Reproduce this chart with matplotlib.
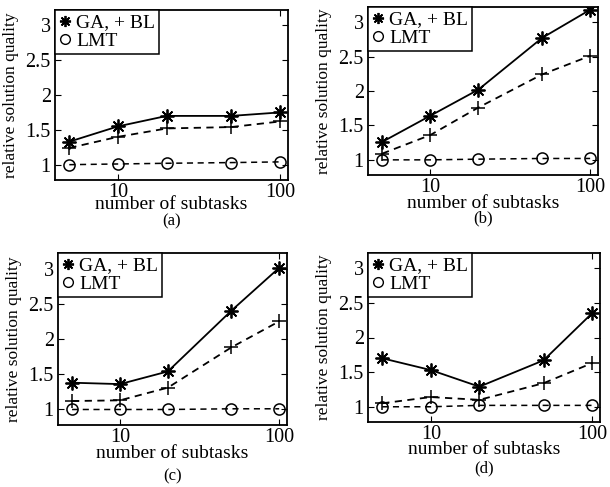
import matplotlib.pyplot as plt
from matplotlib.lines import Line2D

plt.rcParams['font.family'] = 'Liberation Serif'

subtasks = [5, 10, 20, 50, 100]

ga_a = [1.33, 1.55, 1.70, 1.70, 1.75]
bl_a = [1.24, 1.40, 1.52, 1.54, 1.62]
lmt_a = [1.00, 1.01, 1.02, 1.03, 1.04]

ga_b = [1.26, 1.64, 2.02, 2.77, 3.18]
bl_b = [1.09, 1.36, 1.76, 2.24, 2.51]
lmt_b = [1.00, 1.00, 1.01, 1.02, 1.02]

ga_c = [1.38, 1.36, 1.54, 2.40, 3.01]
bl_c = [1.12, 1.13, 1.31, 1.88, 2.25]
lmt_c = [1.00, 1.00, 1.00, 1.01, 1.01]

ga_d = [1.70, 1.53, 1.29, 1.67, 2.35]
bl_d = [1.05, 1.14, 1.10, 1.34, 1.63]
lmt_d = [1.00, 1.00, 1.02, 1.02, 1.02]

panels = [('(a)', ga_a, bl_a, lmt_a), ('(b)', ga_b, bl_b, lmt_b),
          ('(c)', ga_c, bl_c, lmt_c), ('(d)', ga_d, bl_d, lmt_d)]

W, H = 610, 487
# axes boxes in pixels: left, top, right, bottom
boxes = [(55, 10, 288, 180), (368, 7, 598, 175),
         (58, 253, 287, 425), (368, 253, 600, 422)]
# pixel offsets (centres) below the axes for the xlabel and the panel letter
label_offsets = [(25, 41), (28, 43), (28, 51), (28, 46)]

star = (8, 2, 0)

fig = plt.figure(figsize=(6.1, 4.87), dpi=100)
for (lab, ga, bl, lmt), (l, t, r, b), (xo, lo) in zip(panels, boxes, label_offsets):
    h = b - t
    ax = fig.add_axes([l / W, 1 - b / H, (r - l) / W, h / H])
    ax.plot(subtasks, ga, color='black', lw=1.3, marker=star, ms=10, mew=1.3)
    ax.plot(subtasks, bl, color='black', lw=1.3, ls=(0, (4, 3)), marker='+', ms=10, mew=1.1)
    ax.plot(subtasks, lmt, color='black', lw=1.1, ls=(0, (4, 3)), marker='o', ms=8,
            mfc='none', mew=1.1)
    ax.set_xscale('log')
    ax.set_xlim(4.08, 112)
    ax.set_ylim(0.78, 3.22)
    ax.set_xticks([10, 100])
    ax.set_xticklabels(['10', '100'])
    ax.minorticks_off()
    ax.set_yticks([1, 1.5, 2, 2.5, 3])
    ax.set_yticklabels(['1', '1.5', '2', '2.5', '3'])
    ax.tick_params(direction='in', length=4, labelsize=14.5, top=True, right=True)
    ax.tick_params(axis='x', pad=2)
    ax.tick_params(axis='y', pad=3)
    for s in ax.spines.values():
        s.set_linewidth(1.3)
    ax.set_xlabel('number of subtasks', fontsize=14, va='center')
    ax.xaxis.set_label_coords(0.5, -xo / h)
    ax.set_ylabel('relative solution quality', fontsize=12.5, va='center')
    ax.yaxis.set_label_coords(-44 / (r - l), 0.5)
    ax.text(0.5, -lo / h, lab, transform=ax.transAxes, ha='center', va='center', fontsize=12)
    handles = [Line2D([], [], color='black', ls='none', marker=star, ms=8, mew=1.3),
               Line2D([], [], color='black', ls='none', marker='o', ms=7, mfc='none')]
    leg = ax.legend(handles, ['GA, + BL', 'LMT'], loc='upper left', fontsize=14,
                    handlelength=0.6, handletextpad=0.3, borderpad=0.2, labelspacing=0.05,
                    borderaxespad=0, fancybox=False, edgecolor='black', framealpha=1)
    leg.get_frame().set_linewidth(1.1)

fig.savefig('out.png', dpi=100)
